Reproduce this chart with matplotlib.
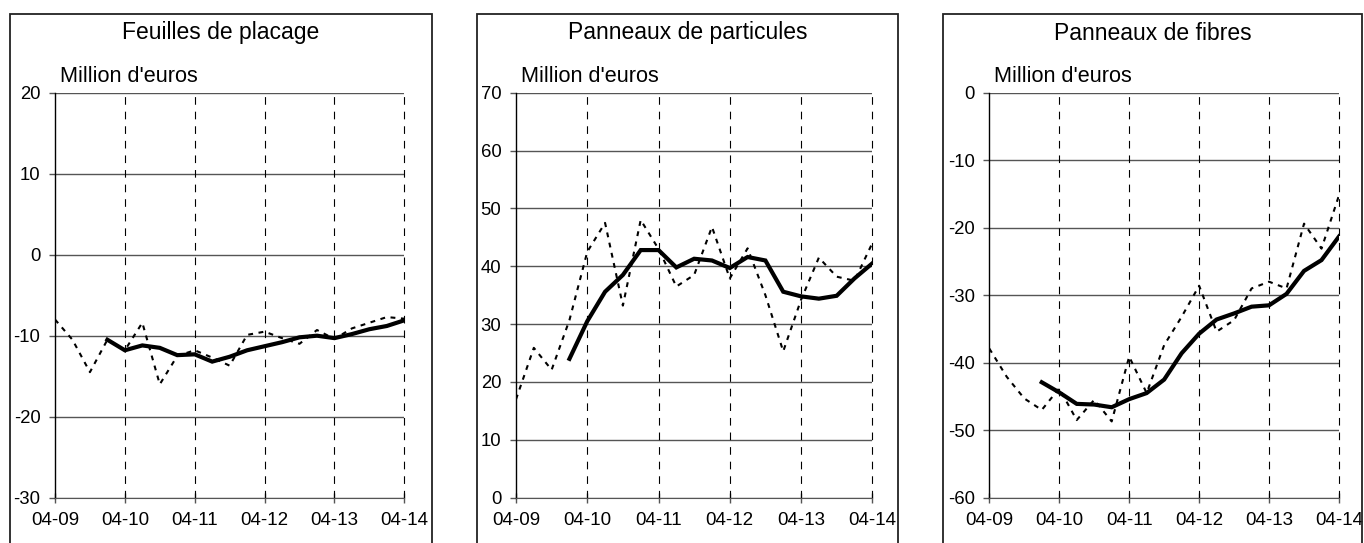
import matplotlib
matplotlib.use("Agg")
import matplotlib.pyplot as plt
from matplotlib.patches import Rectangle
import numpy as np

plt.rcParams["font.family"] = ["Liberation Sans", "DejaVu Sans"]
plt.rcParams["lines.scale_dashes"] = False
plt.rcParams["axes.unicode_minus"] = False

# quarterly points from 04-09 to 04-14
tick_labels = ["04-09", "04-10", "04-11", "04-12", "04-13", "04-14"]
quarters = np.arange(21)

titles = ["Feuilles de placage", "Panneaux de particules", "Panneaux de fibres"]
unit_label = "Million d'euros"

placage_q = [-8.0, -10.5, -14.5, -10.5, -11.8, -8.4, -16.0, -12.5, -11.8, -12.7,
             -13.7, -9.9, -9.5, -10.3, -11.0, -9.3, -10.4, -9.1, -8.4, -7.7, -7.9]
placage_ma = [-10.5, -11.8, -11.2, -11.5, -12.4, -12.3, -13.2, -12.6, -11.8, -11.3,
              -10.8, -10.2, -10.0, -10.3, -9.8, -9.2, -8.8, -8.1]

particules_q = [17.0, 25.9, 22.1, 30.7, 42.5, 47.5, 33.2, 48.0, 43.0, 36.5,
                38.5, 46.8, 37.9, 43.1, 35.0, 25.3, 34.2, 41.5, 38.2, 37.5, 44.0]
particules_ma = [24.0, 30.5, 35.6, 38.5, 42.8, 42.8, 39.8, 41.3, 41.0, 39.7,
                 41.6, 41.0, 35.6, 34.8, 34.4, 34.9, 37.9, 40.5]

fibres_q = [-37.9, -42.1, -45.3, -47.0, -43.8, -48.5, -45.5, -48.7, -39.1, -44.5,
            -37.4, -33.2, -28.6, -35.4, -33.7, -29.0, -28.0, -29.0, -19.4, -23.1, -15.2]
fibres_ma = [-42.9, -44.4, -46.1, -46.2, -46.6, -45.4, -44.5, -42.5, -38.6, -35.7,
             -33.6, -32.7, -31.7, -31.5, -29.8, -26.4, -24.8, -21.3]

y_limits = [(-30, 20), (0, 70), (-60, 0)]
series = [(placage_q, placage_ma), (particules_q, particules_ma), (fibres_q, fibres_ma)]

W, H = 1364, 543
fig = plt.figure(figsize=(W / 100, H / 100), dpi=100)

# panel geometry in pixels: axes left/right, box left/right
ax_px = [(55, 404.3), (516, 872.3), (989.3, 1339)]
box_px = [(9.5, 432), (476.7, 898), (943.3, 1362)]
ax_top, ax_bot = 92.7, 497.7

for i in range(3):
    l, r = ax_px[i]
    ax = fig.add_axes([l / W, 1 - ax_bot / H, (r - l) / W, (ax_bot - ax_top) / H])
    bl, br = box_px[i]
    fig.patches.append(Rectangle((bl / W, -0.01), (br - bl) / W, 1 - 14 / H + 0.01,
                                 transform=fig.transFigure, fill=False,
                                 edgecolor="#222222", linewidth=1.3))
    fig.text((bl + br) / 2 / W, 1 - 33 / H, titles[i], ha="center", va="center",
             fontsize=16.5)

    q, ma = series[i]
    ax.plot(quarters, q, color="black", linewidth=1.5, linestyle=(0, (3.5, 4)),
            zorder=3)
    ax.plot(quarters[3:], ma, color="black", linewidth=3, solid_joinstyle="miter",
            zorder=4)

    ax.set_xlim(0, 20)
    ax.set_ylim(*y_limits[i])
    ax.set_xticks(np.arange(0, 21, 4))
    ax.set_xticklabels(tick_labels)
    ax.set_yticks(np.arange(y_limits[i][0], y_limits[i][1] + 1, 10))
    ax.tick_params(axis="y", direction="out", length=4.5, width=1, colors="#555555",
                   labelcolor="black", labelsize=13.3, pad=6)
    ax.tick_params(axis="x", direction="inout", length=7, width=1, colors="#555555",
                   labelcolor="black", labelsize=13.5, pad=7)

    ax.yaxis.grid(True, color="#555555", linewidth=1.0, linestyle="-")
    for xv in np.arange(4, 21, 4):
        ax.axvline(xv, color="black", linewidth=0.8, linestyle=(0, (5.5, 5)),
                   zorder=1, clip_on=False)
    ax.set_axisbelow(True)
    for s in ["top", "right"]:
        ax.spines[s].set_visible(False)
    ax.spines["bottom"].set_color("#555555")
    ax.spines["left"].set_color("black")
    ax.spines["left"].set_linewidth(1.0)

    ax.text(0.014, 1.039, unit_label, transform=ax.transAxes, ha="left",
            va="center", fontsize=15.6)

fig.savefig("out.png", dpi=100)
